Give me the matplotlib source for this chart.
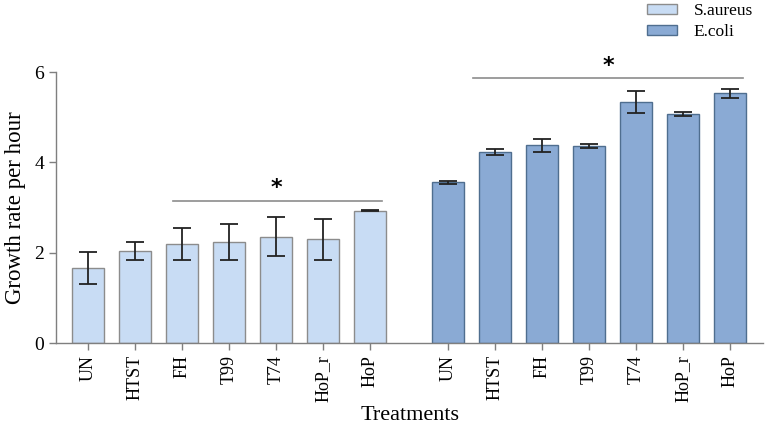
import matplotlib.pyplot as plt
from matplotlib.patches import Patch
import numpy as np

plt.rcParams['font.family'] = ['Liberation Serif', 'DejaVu Serif']

treatments = ['UN', 'HTST', 'FH', 'T99', 'T74', 'HoP_r', 'HoP']
saureus = [1.66, 2.04, 2.20, 2.24, 2.36, 2.30, 2.93]
saureus_err = [0.36, 0.20, 0.35, 0.39, 0.43, 0.45, 0.01]
ecoli = [3.56, 4.23, 4.38, 4.36, 5.34, 5.07, 5.53]
ecoli_err = [0.04, 0.07, 0.14, 0.05, 0.25, 0.05, 0.10]

light = '#c8dcf4'
dark = '#8aaad4'
grey = '#7f7f7f'

x1 = np.arange(len(treatments))
x2 = x1 + 7.66

fig = plt.figure(figsize=(7.67, 4.29), dpi=100)
ax = fig.add_axes([0.073, 0.2, 0.922, 0.632])

ax.bar(x1, saureus, width=0.67, color=light, edgecolor='#8c8c8c', linewidth=1)
ax.bar(x2, ecoli, width=0.67, color=dark, edgecolor='#4f6e8f', linewidth=1)
ax.errorbar(x1, saureus, yerr=saureus_err, fmt='none', ecolor='#222222',
            elinewidth=1.3, capsize=6.5, capthick=1.3)
ax.errorbar(x2, ecoli, yerr=ecoli_err, fmt='none', ecolor='#222222',
            elinewidth=1.3, capsize=6.5, capthick=1.3)

# significance brackets
ax.plot([1.80, 6.26], [3.15, 3.15], color='#8c8c8c', lw=1.2, clip_on=False)
ax.text(4.01, 3.44, '*', ha='center', va='center', fontsize=16,
        fontweight='bold', family='DejaVu Sans')
ax.plot([8.19, 13.94], [5.86, 5.86], color='#8c8c8c', lw=1.2, clip_on=False)
ax.text(11.06, 6.13, '*', ha='center', va='center', fontsize=16,
        fontweight='bold', family='DejaVu Sans', clip_on=False)

ax.set_xlim(-0.68, 14.36)
ax.set_ylim(0, 6)
ax.set_yticks([0, 2, 4, 6])
ax.set_xticks(np.concatenate([x1, x2]))
ax.set_xticklabels(treatments * 2, rotation=90, fontsize=13)
ax.tick_params(axis='y', labelsize=14, length=5, color=grey, width=1)
ax.tick_params(axis='x', length=5, color=grey, width=1)

for s in ['top', 'right']:
    ax.spines[s].set_visible(False)
for s in ['left', 'bottom']:
    ax.spines[s].set_color(grey)
    ax.spines[s].set_linewidth(1)

ax.set_ylabel('Growth rate per hour', fontsize=16.5, labelpad=6)
ax.set_xlabel('Treatments', fontsize=16, labelpad=3)

handles = [Patch(facecolor=light, edgecolor='#8c8c8c', label='S.aureus'),
           Patch(facecolor=dark, edgecolor='#4f6e8f', label='E.coli')]
fig.legend(handles=handles, loc='upper left', bbox_to_anchor=(647 / 767, 1 - 3 / 429),
           frameon=False, fontsize=12.5, handlelength=1.7, handleheight=0.5,
           labelspacing=0.3, handletextpad=1.0, borderpad=0, borderaxespad=0)

fig.savefig('out.png', dpi=100)
